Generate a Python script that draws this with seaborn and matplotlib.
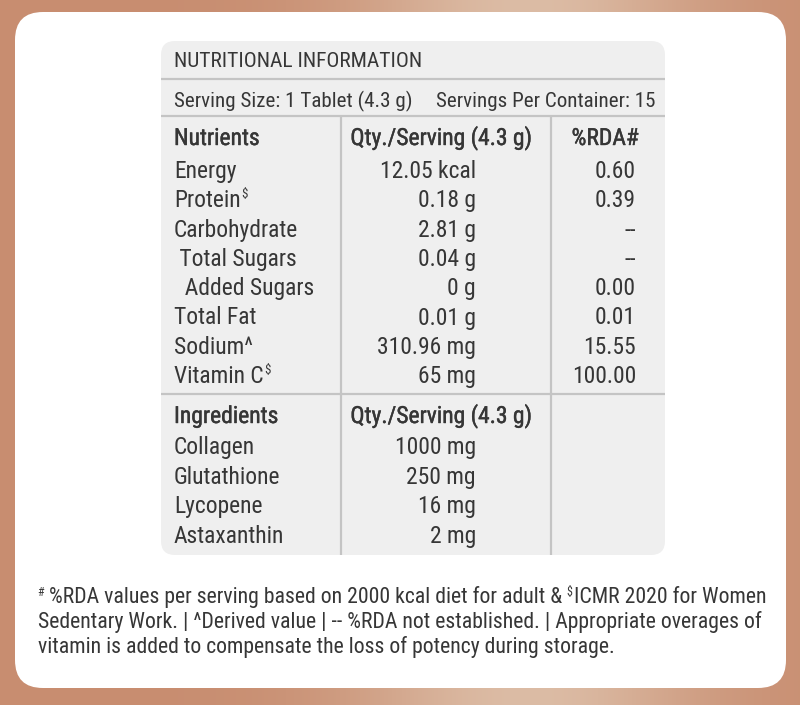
import matplotlib
matplotlib.use("Agg")
import numpy as np
import seaborn as sns
from matplotlib import pyplot as plt
from matplotlib import font_manager
from matplotlib import patheffects
from matplotlib.font_manager import FontProperties
from matplotlib.ft2font import FT2Font
from matplotlib.patches import FancyBboxPatch

# table content
title = "NUTRITIONAL INFORMATION"
serving_size = "Serving Size: 1 Tablet (4.3 g)"
servings_per = "Servings Per Container: 15"
headers = ["Nutrients", "Qty./Serving (4.3 g)", "%RDA#"]
nutrients = ["Energy", "Protein", "Carbohydrate", " Total Sugars", "  Added Sugars",
             "Total Fat", "Sodium^", "Vitamin C"]
nutrient_marks = ["", "$", "", "", "", "", "", "$"]
nutrient_qty = ["12.05 kcal", "0.18 g", "2.81 g", "0.04 g", "0 g", "0.01 g",
                "310.96 mg", "65 mg"]
rda = ["0.60", "0.39", "--", "--", "0.00", "0.01", "15.55", "100.00"]
ingr_headers = ["Ingredients", "Qty./Serving (4.3 g)"]
ingredients = ["Collagen", "Glutathione", "Lycopene", "Astaxanthin"]
ingredient_qty = ["1000 mg", "250 mg", "16 mg", "2 mg"]
foot1a = " %RDA values per serving based on 2000 kcal diet for adult & "
foot1b = "ICMR 2020 for Women"
foot2 = "Sedentary Work. | ^Derived value | -- %RDA not established. | Appropriate overages of"
foot3 = "vitamin is added to compensate the loss of potency during storage."

sns.set_theme(style="white")
plt.rcParams["font.family"] = ["Roboto", "DejaVu Sans"]

TXT = "#363636"
LINE = "#c4c4c4"

fig = plt.figure(figsize=(8, 7.05), dpi=100)
ax = fig.add_axes([0, 0, 1, 1])
ax.set_xlim(0, 800)
ax.set_ylim(705, 0)
ax.axis("off")
renderer = fig.canvas.get_renderer()

# the label uses a condensed face: take the narrowest installed sans regular
# that really covers every character we draw
needed = set("".join([title, serving_size, servings_per, foot1a, foot1b, foot2, foot3]
                     + headers + nutrients + nutrient_qty + rda + ingredients))
needed = {ord(c) for c in needed}
prefixes = ["DejaVu Sans", "Liberation Sans", "Noto Sans", "Roboto", "Open Sans", "Lato", "Inter"]
best, best_w = None, 1e9
for f in font_manager.fontManager.ttflist:
    if f.style != "normal" or f.weight not in (400, "normal", "regular"):
        continue
    if not any(f.name.startswith(p) for p in prefixes):
        continue
    if any(k in f.name for k in ["Mono", "CJK", "Math", "Symbols"]):
        continue
    try:
        cmap = FT2Font(f.fname).get_charmap()
        if not needed.issubset(cmap.keys()):
            continue
        t = ax.text(0, 0, "Carbohydrate", fontproperties=FontProperties(fname=f.fname, size=10))
        wd = t.get_window_extent(renderer).width
        t.remove()
    except Exception:
        continue
    if wd < best_w:
        best, best_w = f.fname, wd

# copper gradient background
xs = np.linspace(0, 1, 400)
c_edge = np.array([200, 141, 112]) / 255
c_mid = np.array([220, 188, 165]) / 255
w = np.exp(-((xs - 0.66) / 0.22) ** 2)[None, :, None]
grad = c_edge * (1 - w) + c_mid * w
ax.imshow(np.repeat(grad, 2, axis=0), extent=(0, 800, 705, 0), aspect="auto", zorder=0)

# white card and grey panel
ax.add_patch(FancyBboxPatch((15, 12), 771, 676, boxstyle="round,pad=0,rounding_size=28",
                            fc="white", ec="none", zorder=1))
ax.add_patch(FancyBboxPatch((161, 41), 504, 514, boxstyle="round,pad=0,rounding_size=14",
                            fc="#efefef", ec="none", zorder=2))
for y in [79, 116, 394]:
    ax.plot([161, 665], [y, y], color=LINE, lw=1.6, zorder=3, solid_capstyle="butt")
for x in [341, 551]:
    ax.plot([x, x], [116, 555], color=LINE, lw=1.6, zorder=3, solid_capstyle="butt")


def fp(size):
    if best is None:
        return FontProperties(family=["Roboto", "DejaVu Sans"], size=size)
    return FontProperties(fname=best, size=size)


def width_of(s, size):
    t = ax.text(0, 0, s, fontproperties=fp(size))
    wd = t.get_window_extent(renderer).width
    t.remove()
    return wd


def fit(s, target):
    return 10 * target / width_of(s, 10)


def right_of(t):
    bb = t.get_window_extent(renderer)
    return ax.transData.inverted().transform((bb.x1, bb.y0))[0]


fs_title = fit(title, 248)
fs_body = fit("Carbohydrate", 124)
fs_serv = min(fs_body, fit(serving_size, 236), fit(servings_per, 225))
fs_foot = min(fit(foot2, 732), fit(foot1a + foot1b, 712))
fs_sup = fs_body * 0.55

kw = dict(color=TXT, va="baseline", zorder=4)
semi = [patheffects.withStroke(linewidth=0.3, foreground=TXT)]
ax.text(174, 67, title, fontproperties=fp(fs_title), **kw)
ax.text(174, 107, serving_size, fontproperties=fp(fs_serv), **kw)
ax.text(655, 107, servings_per, fontproperties=fp(fs_serv), ha="right", **kw)

ax.text(174, 145, headers[0], fontproperties=fp(fs_body), path_effects=semi, **kw)
ax.text(441, 145, headers[1], fontproperties=fp(fs_body), ha="center", path_effects=semi, **kw)
ax.text(605, 145, headers[2], fontproperties=fp(fs_body), ha="center", path_effects=semi, **kw)

y0, step = 178, 29.3
for i, name in enumerate(nutrients):
    y = y0 + i * step
    t = ax.text(174, y, name, fontproperties=fp(fs_body), **kw)
    if nutrient_marks[i]:
        ax.text(right_of(t) + 1, y - 9, nutrient_marks[i], fontproperties=fp(fs_sup), **kw)
    ax.text(476, y, nutrient_qty[i], fontproperties=fp(fs_body), ha="right", **kw)
    ax.text(636, y, rda[i], fontproperties=fp(fs_body), ha="right", **kw)

ax.text(174, 423, ingr_headers[0], fontproperties=fp(fs_body), path_effects=semi, **kw)
ax.text(441, 423, ingr_headers[1], fontproperties=fp(fs_body), ha="center", path_effects=semi, **kw)
y0, step = 454, 29.6
for i, name in enumerate(ingredients):
    y = y0 + i * step
    ax.text(174, y, name, fontproperties=fp(fs_body), **kw)
    ax.text(476, y, ingredient_qty[i], fontproperties=fp(fs_body), ha="right", **kw)

# footnote
t = ax.text(37, 596, "#", fontproperties=fp(fs_foot * 0.55), **kw)
t = ax.text(right_of(t), 603, foot1a, fontproperties=fp(fs_foot), **kw)
t = ax.text(right_of(t), 596, "$", fontproperties=fp(fs_foot * 0.55), **kw)
ax.text(right_of(t) + 1, 603, foot1b, fontproperties=fp(fs_foot), **kw)
ax.text(38, 628, foot2, fontproperties=fp(fs_foot), **kw)
ax.text(38, 653, foot3, fontproperties=fp(fs_foot), **kw)

fig.savefig("out.png", dpi=100)
